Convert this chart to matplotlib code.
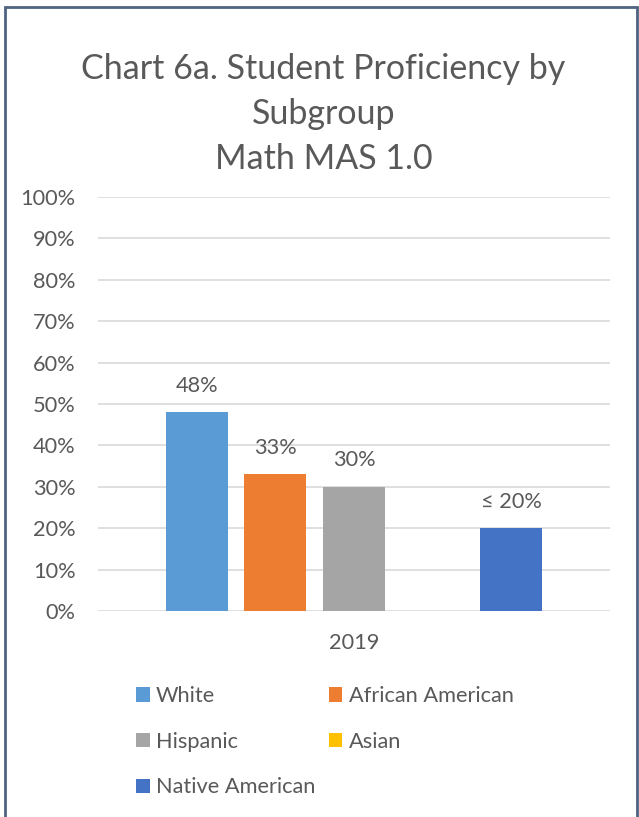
import numpy as np
import matplotlib.pyplot as plt
from matplotlib.patches import Rectangle
from matplotlib.ticker import PercentFormatter

plt.rcParams['font.family'] = ['Lato', 'DejaVu Sans']

# Data
categories = ['2019']
subgroups = ['White', 'African American', 'Hispanic', 'Asian', 'Native American']
values = [48, 33, 30, None, 20]
labels = ['48%', '33%', '30%', '', '\u2264 20%']
colors = ['#5B9BD5', '#ED7D31', '#A5A5A5', '#FFC000', '#4472C4']

TEXT = '#595959'
FS = 15.7
W, H = 639, 817

fig = plt.figure(figsize=(W / 100, H / 100), dpi=100)

# plot area in pixels: x 98..610, y 197..611
ax = fig.add_axes([98 / W, 1 - 611 / H, (610 - 98) / W, (611 - 197) / H])

offsets = np.arange(len(subgroups)) - 2
bars = []
for i, (name, v, lab, c) in enumerate(zip(subgroups, values, labels, colors)):
    h = 0 if v is None else v
    b = ax.bar(offsets[i], h, width=0.79, color=c, label=name)
    bars.append(b)
    if lab:
        ax.text(offsets[i], h + 4, lab, ha='center', va='bottom',
                fontsize=FS, color=TEXT)

ax.set_ylim(0, 100)
ax.set_xlim(-3.26, 3.26)
ax.set_yticks(np.arange(0, 101, 10))
ax.yaxis.set_major_formatter(PercentFormatter(decimals=0))
ax.set_xticks([0])
ax.set_xticklabels(categories)
ax.tick_params(axis='both', length=0, labelsize=FS, labelcolor=TEXT)
ax.tick_params(axis='x', pad=16)
ax.tick_params(axis='y', pad=16)
ax.grid(axis='y', color='#D9D9D9', linewidth=1.2)
ax.set_axisbelow(True)
for s in ax.spines.values():
    s.set_visible(False)

title_lines = ['Chart 6a. Student Proficiency by', 'Subgroup', 'Math MAS 1.0']
for k, line in enumerate(title_lines):
    fig.text(323.5 / W, 1 - (66 + 45 * k) / H, line, ha='center',
             va='center_baseline', fontsize=24.5, color=TEXT)

# legend, filled row by row like the original
order = [0, 2, 4, 1, 3]
fig.legend([bars[i] for i in order], [subgroups[i] for i in order], ncol=2,
           loc='upper left', bbox_to_anchor=(136 / W, 1 - 686 / H),
           frameon=False, borderpad=0, borderaxespad=0,
           fontsize=FS, labelcolor=TEXT, handlelength=0.64,
           handleheight=0.64, handletextpad=0.28, columnspacing=0.6,
           labelspacing=1.18)

# outer border
fig.patches.append(Rectangle((5 / W, -0.05), (637 - 5) / W, 1 - 7 / H + 0.05,
                             transform=fig.transFigure, fill=False,
                             edgecolor='#4E6480', linewidth=2))

fig.savefig('out.png', dpi=100)
